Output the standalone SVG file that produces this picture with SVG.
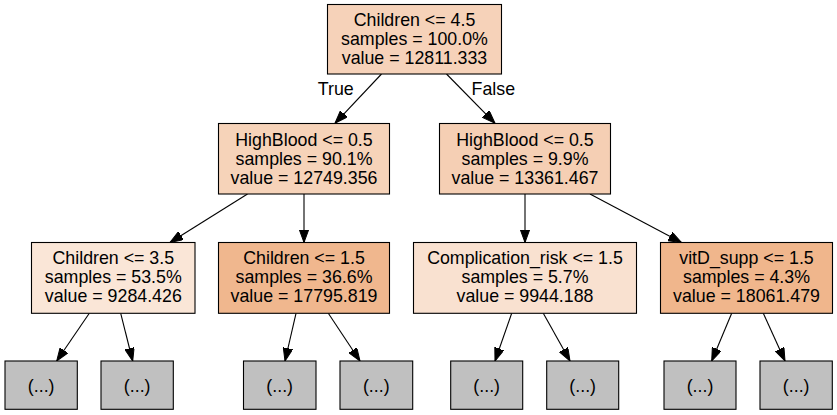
<svg xmlns="http://www.w3.org/2000/svg" width="837" height="415" viewBox="0 0 837 415">
<defs>
<marker id="arr" markerUnits="userSpaceOnUse" markerWidth="14" markerHeight="10" refX="13" refY="4.75" orient="auto">
<path d="M0,0 L13,4.75 L0,9.5 z" fill="#000" stroke="#000" stroke-width="1"/>
</marker>
</defs>
<style>
rect{stroke:#000;stroke-width:1.1}
text{font-family:"Liberation Sans",Arial,sans-serif;font-size:17.8px;fill:#000;text-anchor:middle}
.leaf rect{fill:#c0c0c0}
#edges line{stroke:#000;stroke-width:1.1;marker-end:url(#arr)}
</style>
<rect width="837" height="415" fill="#fff" style="stroke:none"/>
<g id="edges">
<line x1="381.5" y1="74" x2="335" y2="123.3"/>
<line x1="446.5" y1="74" x2="495" y2="123.3"/>
<line x1="247.5" y1="194" x2="170" y2="242.5"/>
<line x1="304" y1="194" x2="304" y2="242.5"/>
<line x1="525" y1="194" x2="525" y2="242.5"/>
<line x1="590" y1="194" x2="681.5" y2="242.5"/>
<line x1="89.3" y1="313.3" x2="56.7" y2="361"/>
<line x1="120.7" y1="313.3" x2="132.7" y2="361"/>
<line x1="296" y1="313.3" x2="285" y2="361"/>
<line x1="328.3" y1="313.3" x2="360" y2="361"/>
<line x1="511.7" y1="313.3" x2="495" y2="361"/>
<line x1="543.3" y1="313.3" x2="570" y2="361"/>
<line x1="731.7" y1="313.3" x2="711.7" y2="361"/>
<line x1="763.3" y1="313.3" x2="785" y2="361"/>
<text x="335.8" y="94.5">True</text>
<text x="493.3" y="94.5">False</text>
</g>
<g id="n0">
<rect x="327.5" y="4.5" width="174" height="69.5" fill="#f6d2b9"/>
<text x="414.5" y="26">Children &lt;= 4.5</text>
<text x="414.5" y="45">samples = 100.0%</text>
<text x="414.5" y="64">value = 12811.333</text>
</g>
<g id="n1">
<rect x="218.5" y="123.5" width="171" height="70.5" fill="#f6d3b9"/>
<text x="304" y="145.5">HighBlood &lt;= 0.5</text>
<text x="304" y="164.5">samples = 90.1%</text>
<text x="304" y="183.5">value = 12749.356</text>
</g>
<g id="n2">
<rect x="439.5" y="123.5" width="171" height="70.5" fill="#f5cfb4"/>
<text x="525" y="145.5">HighBlood &lt;= 0.5</text>
<text x="525" y="164.5">samples = 9.9%</text>
<text x="525" y="183.5">value = 13361.467</text>
</g>
<g id="n3">
<rect x="31.5" y="242.5" width="163.5" height="70.8" fill="#fae6d7"/>
<text x="113.3" y="264">Children &lt;= 3.5</text>
<text x="113.3" y="283">samples = 53.5%</text>
<text x="113.3" y="302">value = 9284.426</text>
</g>
<g id="n4">
<rect x="218.5" y="242.5" width="171" height="70.8" fill="#f0b78e"/>
<text x="304" y="264">Children &lt;= 1.5</text>
<text x="304" y="283">samples = 36.6%</text>
<text x="304" y="302">value = 17795.819</text>
</g>
<g id="n5">
<rect x="413.5" y="242.5" width="223" height="70.8" fill="#f9e1d0"/>
<text x="525" y="264">Complication_risk &lt;= 1.5</text>
<text x="525" y="283">samples = 5.7%</text>
<text x="525" y="302">value = 9944.188</text>
</g>
<g id="n6">
<rect x="660.5" y="242.5" width="172" height="70.8" fill="#f0b68c"/>
<text x="746.5" y="264">vitD_supp &lt;= 1.5</text>
<text x="746.5" y="283">samples = 4.3%</text>
<text x="746.5" y="302">value = 18061.479</text>
</g>
<g id="l1" class="leaf"><rect x="5" y="361" width="72.3" height="48.3"/><text x="41.2" y="391.5">(...)</text></g>
<g id="l2" class="leaf"><rect x="101" y="361" width="72.3" height="48.3"/><text x="137.2" y="391.5">(...)</text></g>
<g id="l3" class="leaf"><rect x="243.5" y="361" width="72.5" height="48.3"/><text x="279.7" y="391.5">(...)</text></g>
<g id="l4" class="leaf"><rect x="340" y="361" width="72.7" height="48.3"/><text x="376.3" y="391.5">(...)</text></g>
<g id="l5" class="leaf"><rect x="450.7" y="361" width="72" height="48.3"/><text x="486.7" y="391.5">(...)</text></g>
<g id="l6" class="leaf"><rect x="546.7" y="361" width="72" height="48.3"/><text x="582.7" y="391.5">(...)</text></g>
<g id="l7" class="leaf"><rect x="664" y="361" width="72" height="48.3"/><text x="700" y="391.5">(...)</text></g>
<g id="l8" class="leaf"><rect x="760" y="361" width="72.3" height="48.3"/><text x="796.2" y="391.5">(...)</text></g>
</svg>
